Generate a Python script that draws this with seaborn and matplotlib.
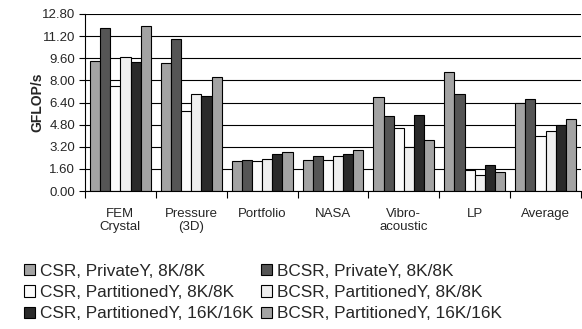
import numpy as np
import pandas as pd
import matplotlib
matplotlib.use("Agg")
import matplotlib.pyplot as plt
import seaborn as sns
from matplotlib.patches import Patch
from matplotlib.ticker import FixedLocator

sns.set_theme(style="white")
plt.rcParams["font.family"] = ["Liberation Sans", "DejaVu Sans"]

categories = ["FEM\nCrystal", "Pressure\n(3D)", "Portfolio", "NASA", "Vibro-\nacoustic", "LP", "Average"]
series_names = [
    "CSR, PrivateY, 8K/8K",
    "BCSR, PrivateY, 8K/8K",
    "CSR, PartitionedY, 8K/8K",
    "BCSR, PartitionedY, 8K/8K",
    "CSR, PartitionedY, 16K/16K",
    "BCSR, PartitionedY, 16K/16K",
]
csr_private_8k = [9.40, 9.23, 2.15, 2.22, 6.80, 8.58, 6.34]
bcsr_private_8k = [11.76, 11.02, 2.24, 2.56, 5.40, 6.99, 6.65]
csr_part_8k = [7.59, 5.81, 2.19, 2.22, 4.53, 1.52, 3.98]
bcsr_part_8k = [9.72, 6.99, 2.34, 2.56, 3.21, 1.16, 4.32]
csr_part_16k = [9.31, 6.90, 2.70, 2.70, 5.50, 1.90, 4.80]
bcsr_part_16k = [11.96, 8.27, 2.84, 2.97, 3.66, 1.37, 5.18]
colors = ["#a3a3a3", "#555555", "#fbfbfb", "#efefef", "#2a2a2a", "#a3a3a3"]
yticks = [0.00, 1.60, 3.20, 4.80, 6.40, 8.00, 9.60, 11.20, 12.80]

all_series = [csr_private_8k, bcsr_private_8k, csr_part_8k,
              bcsr_part_8k, csr_part_16k, bcsr_part_16k]
rows = []
for name, vals in zip(series_names, all_series):
    for cat, v in zip(categories, vals):
        rows.append({"benchmark": cat, "config": name, "gflops": v})
df = pd.DataFrame(rows)

fig = plt.figure(figsize=(5.82, 3.29), dpi=100)
ax = fig.add_axes([85 / 582, 1 - 191 / 329, 496 / 582, 177 / 329])

sns.barplot(data=df, x="benchmark", y="gflops", hue="config",
            hue_order=series_names, order=categories, palette=colors,
            width=0.86, gap=0, edgecolor="black", linewidth=0.8,
            legend=False, ax=ax)

ax.set_ylim(0, 12.8)
ax.set_xlim(-0.5, len(categories) - 0.5)
ax.set_yticks(yticks)
ax.set_yticklabels([f"{t:.2f}" for t in yticks], fontsize=9.5)
ax.yaxis.grid(True, color="black", linewidth=0.8)
ax.set_axisbelow(True)
for s in ["top", "right"]:
    ax.spines[s].set_visible(False)
ax.spines["left"].set_color("black")
ax.spines["bottom"].set_color("black")
ax.spines["left"].set_linewidth(0.8)
ax.spines["bottom"].set_linewidth(0.8)

ax.set_xlabel("")
ax.set_ylabel("GFLOP/s", fontsize=10, fontweight="bold")
ax.yaxis.set_label_coords(-0.081, 0.5)
ax.tick_params(axis="y", left=True, length=4, width=0.8, color="black", pad=3)
ax.tick_params(axis="x", which="major", bottom=False, labelsize=9.5, pad=6)
ax.xaxis.set_minor_locator(FixedLocator(np.arange(-0.5, len(categories), 1.0)))
ax.tick_params(axis="x", which="minor", bottom=True, length=5, width=0.8, color="black")

handles = [Patch(facecolor=c, edgecolor="black", linewidth=0.8) for c in colors]
order = [0, 2, 4, 1, 3, 5]
fig.legend([handles[i] for i in order], [series_names[i] for i in order],
           ncol=2, loc="lower left", bbox_to_anchor=(14 / 582, -0.008),
           frameon=False, fontsize=12.4, handlelength=0.63, handleheight=0.63,
           handletextpad=0.3, columnspacing=0.4, labelspacing=0.36,
           borderpad=0.1)

fig.savefig("out.png", dpi=100)
